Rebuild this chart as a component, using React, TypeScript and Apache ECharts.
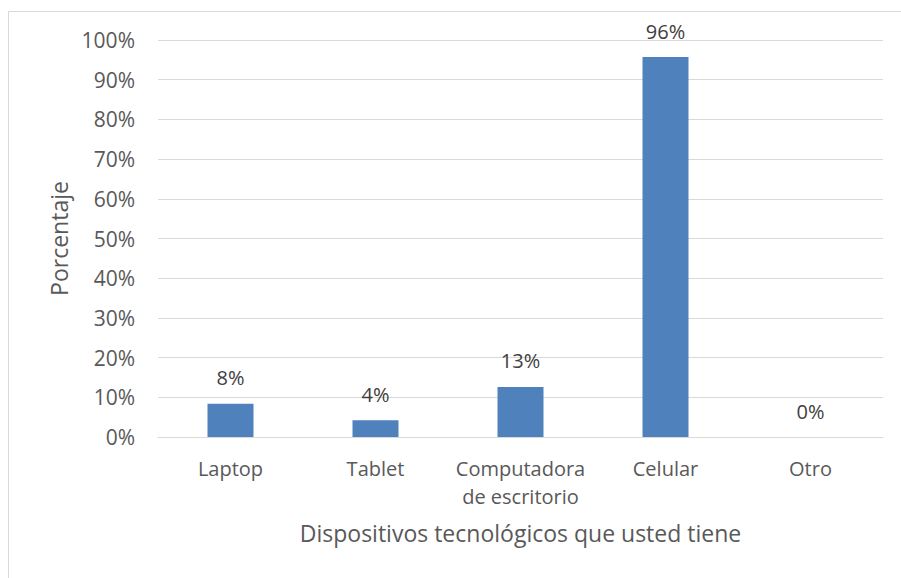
import React, { useEffect, useRef } from "react";
import * as echarts from "echarts";

const categories = ["Laptop", "Tablet", "Computadora\nde escritorio", "Celular", "Otro"];
const values = [8.4, 4.2, 12.6, 95.7, 0];
const yTicks = [0, 10, 20, 30, 40, 50, 60, 70, 80, 90, 100];
const xTitle = "Dispositivos tecnológicos que usted tiene";
const yTitle = "Porcentaje";

const FONT = "Open Sans";
const TEXT = "#595959";

export default function App() {
  const ref = useRef<HTMLDivElement>(null);
  useEffect(() => {
    const chart = echarts.init(ref.current!, undefined, { renderer: "svg" });
    chart.setOption({
      animation: false,
      backgroundColor: "#ffffff",
      textStyle: { fontFamily: FONT },
      graphic: [
        {
          type: "line",
          shape: { x1: 8.5, y1: 11.5, x2: 901, y2: 11.5 },
          style: { stroke: "#D9D9D9", lineWidth: 1 },
          silent: true,
          z: -1,
        },
        {
          type: "line",
          shape: { x1: 8.5, y1: 11.5, x2: 8.5, y2: 578 },
          style: { stroke: "#D9D9D9", lineWidth: 1 },
          silent: true,
          z: -1,
        },
      ],
      grid: { left: 158, right: 18, top: 40, bottom: 141 },
      xAxis: {
        type: "category",
        data: categories,
        axisLine: { show: true, lineStyle: { color: "#D9D9D9", width: 1 } },
        axisTick: { show: false },
        axisLabel: {
          color: TEXT,
          fontSize: 20,
          fontFamily: FONT,
          margin: 17,
          lineHeight: 28,
          interval: 0,
        },
        name: xTitle,
        nameLocation: "middle",
        nameGap: 84,
        nameTextStyle: { color: TEXT, fontSize: 23, fontFamily: FONT },
      },
      yAxis: {
        type: "value",
        min: 0,
        max: 100,
        interval: 10,
        axisLine: { show: false },
        axisTick: { show: false },
        splitLine: { lineStyle: { color: "#D9D9D9", width: 1 } },
        axisLabel: {
          color: TEXT,
          fontSize: 21,
          fontFamily: FONT,
          margin: 23,
          formatter: (v: number) => (yTicks.includes(v) ? `${v}%` : ""),
        },
        name: yTitle,
        nameLocation: "middle",
        nameGap: 87,
        nameTextStyle: { color: TEXT, fontSize: 23, fontFamily: FONT },
      },
      series: [
        {
          type: "bar",
          data: values,
          barWidth: 46,
          itemStyle: { color: "#4F81BD" },
          label: {
            show: true,
            position: "top",
            distance: 16,
            color: "#404040",
            fontSize: 20,
            fontFamily: FONT,
            formatter: (p: any) => `${Math.round(p.value)}%`,
          },
        },
      ],
    });
    return () => chart.dispose();
  }, []);
  return (
    <div
      ref={ref}
      style={{ position: "absolute", left: 0, top: 0, width: 901, height: 578 }}
    />
  );
}
